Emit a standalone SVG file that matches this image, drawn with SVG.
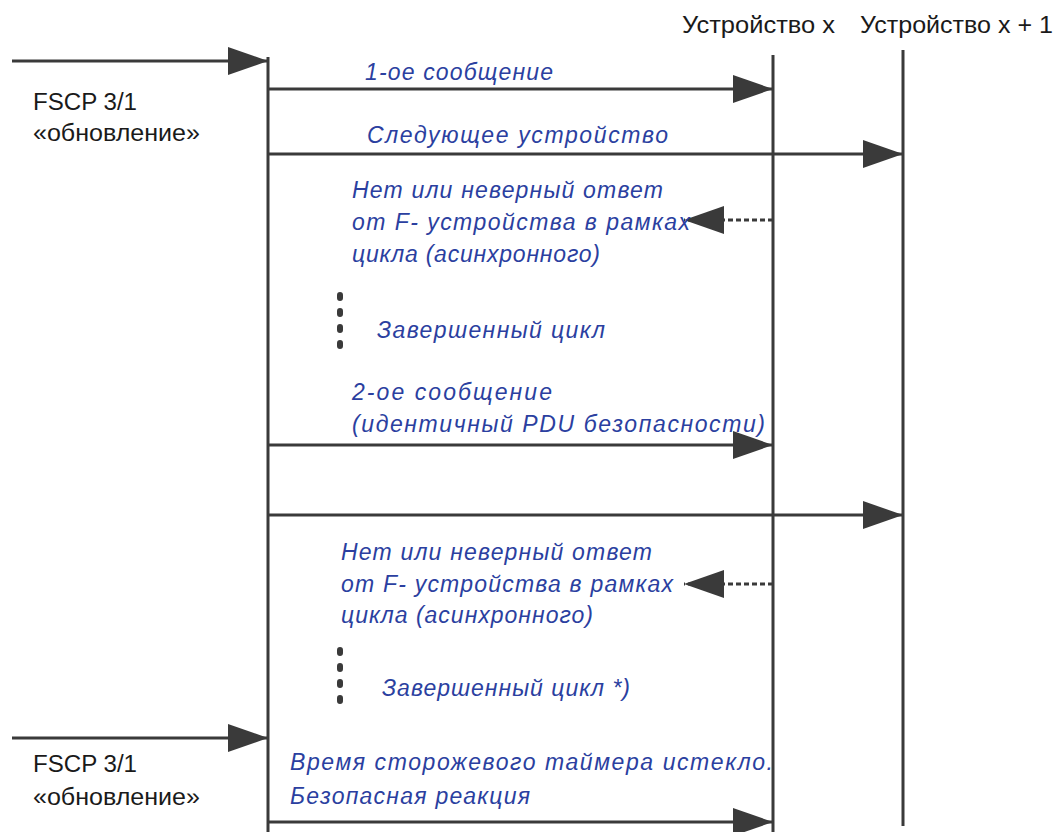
<svg xmlns="http://www.w3.org/2000/svg" width="1059" height="832" viewBox="0 0 1059 832">
<defs>
<marker id="ah" markerWidth="40" markerHeight="28" refX="40" refY="14" orient="auto" markerUnits="userSpaceOnUse">
<path d="M0,0 L40,14 L0,28 Z" fill="#3a3a3a"/>
</marker>
</defs>
<style>
.lbl{font-family:"Liberation Sans",Arial,sans-serif;font-size:23px;fill:#1a1a1a}
.msg{font-family:"Liberation Sans",Arial,sans-serif;font-size:23px;font-style:italic;fill:#2b3fa0}
.life{stroke:#3a3a3a;stroke-width:3;fill:none}
.arr{stroke:#3a3a3a;stroke-width:3;fill:none;marker-end:url(#ah)}
.dash{stroke:#3a3a3a;stroke-width:3;fill:none;stroke-dasharray:5,3;marker-end:url(#ah)}
.dots{stroke:#3a3a3a;stroke-width:6;fill:none;stroke-linecap:round;stroke-dasharray:3,13}
</style>
<rect width="1059" height="832" fill="#ffffff"/>
<g id="sender">
<line class="life" x1="268" y1="57" x2="268" y2="832"/>
<text class="lbl" x="33" y="110" textLength="104" lengthAdjust="spacingAndGlyphs">FSCP 3/1</text>
<text class="lbl" x="33" y="141" textLength="167" lengthAdjust="spacingAndGlyphs">«обновление»</text>
<text class="lbl" x="33" y="772" textLength="104" lengthAdjust="spacingAndGlyphs">FSCP 3/1</text>
<text class="lbl" x="33" y="805" textLength="167" lengthAdjust="spacingAndGlyphs">«обновление»</text>
</g>
<g id="device-x">
<line class="life" x1="773" y1="55" x2="773" y2="832"/>
<text class="lbl" x="682" y="33" textLength="153" lengthAdjust="spacingAndGlyphs">Устройство x</text>
</g>
<g id="device-x1">
<line class="life" x1="903" y1="50" x2="903" y2="826"/>
<text class="lbl" x="860" y="33" textLength="193" lengthAdjust="spacingAndGlyphs">Устройство x + 1</text>
</g>
<g id="connectors">
<line class="arr" x1="12" y1="61" x2="268" y2="61"/>
<line class="arr" x1="268" y1="89" x2="773" y2="89"/>
<line class="arr" x1="268" y1="154" x2="903" y2="154"/>
<line class="dash" x1="773" y1="220" x2="684" y2="220"/>
<line class="dots" x1="340" y1="295" x2="340" y2="356"/>
<line class="arr" x1="268" y1="445" x2="773" y2="445"/>
<line class="arr" x1="268" y1="515" x2="903" y2="515"/>
<line class="dash" x1="773" y1="584" x2="684" y2="584"/>
<line class="dots" x1="340" y1="650" x2="340" y2="711"/>
<line class="arr" x1="12" y1="738" x2="268" y2="738"/>
<line class="arr" x1="268" y1="822" x2="773" y2="822"/>
</g>
<g id="labels">
<text class="msg" x="365" y="80" textLength="188" lengthAdjust="spacing">1-ое сообщение</text>
<text class="msg" x="367" y="143" textLength="301" lengthAdjust="spacing">Следующее устройство</text>
<text class="msg" x="352" y="198" textLength="311" lengthAdjust="spacing">Нет или неверный ответ</text>
<text class="msg" x="352" y="230" textLength="338" lengthAdjust="spacing">от F- устройства в рамках</text>
<text class="msg" x="352" y="262" textLength="248" lengthAdjust="spacing">цикла (асинхронного)</text>
<text class="msg" x="377" y="338" textLength="228" lengthAdjust="spacing">Завершенный цикл</text>
<text class="msg" x="352" y="400" textLength="200" lengthAdjust="spacing">2-ое сообщение</text>
<text class="msg" x="352" y="432" textLength="413" lengthAdjust="spacing">(идентичный PDU безопасности)</text>
<text class="msg" x="341" y="560" textLength="311" lengthAdjust="spacing">Нет или неверный ответ</text>
<text class="msg" x="341" y="592" textLength="332" lengthAdjust="spacing">от F- устройства в рамках</text>
<text class="msg" x="341" y="623" textLength="252" lengthAdjust="spacing">цикла (асинхронного)</text>
<text class="msg" x="382" y="696" textLength="248" lengthAdjust="spacing">Завершенный цикл *)</text>
<text class="msg" x="290" y="770" textLength="483" lengthAdjust="spacing">Время сторожевого таймера истекло.</text>
<text class="msg" x="290" y="804" textLength="240" lengthAdjust="spacing">Безопасная реакция</text>
</g>
</svg>
